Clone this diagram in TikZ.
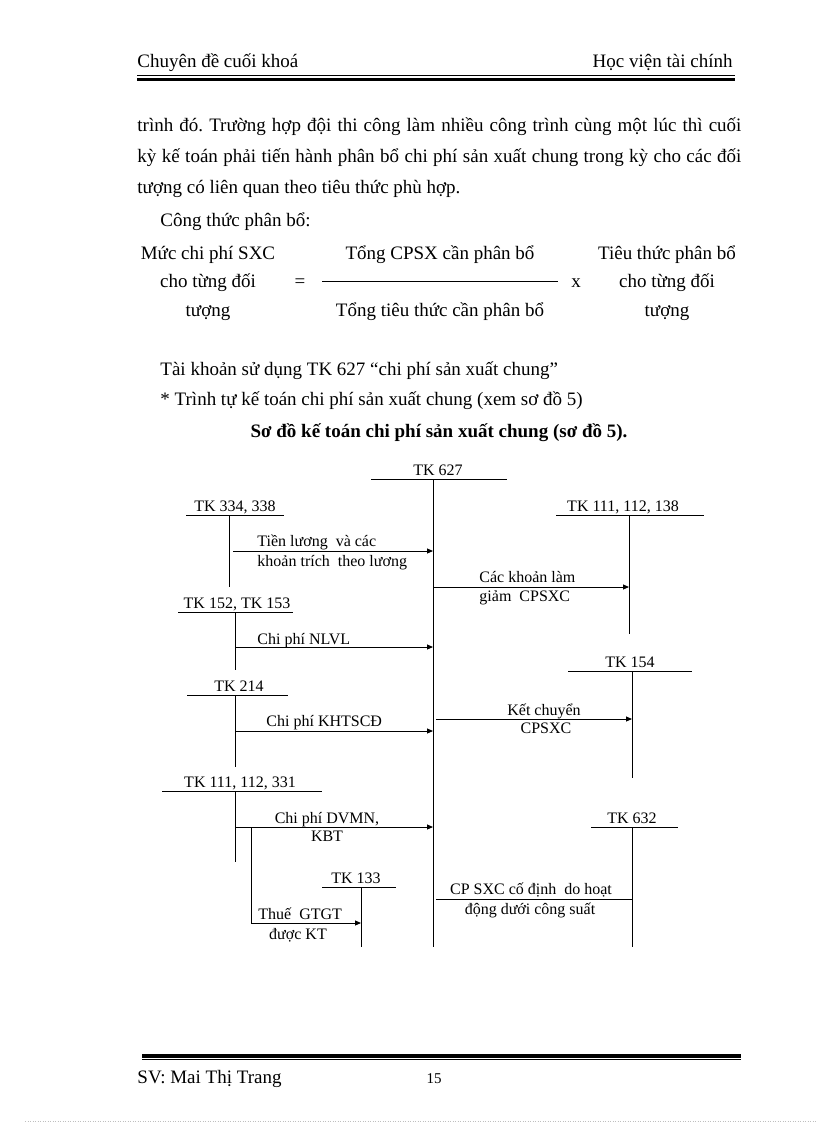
\documentclass[tikz,border=0pt]{standalone}
\usepackage{fontspec}
\setmainfont{Liberation Serif}
\usetikzlibrary{arrows.meta}
\frenchspacing

\begin{document}
\begin{tikzpicture}[x=1pt, y=-1pt, line width=0.9pt,
    body/.style={font=\fontsize{19}{22}\selectfont, anchor=base west, inner sep=0pt},
    mid/.style={body, anchor=base},
    tk/.style={font=\fontsize{16}{18}\selectfont, anchor=base, inner sep=0pt},
    lab/.style={tk, anchor=base west},
    arr/.style={-{Triangle[length=6pt,width=5pt]}}]
\useasboundingbox (0,0) rectangle (816,1123);

% header
\node[body] (head) at (137,68) {Chuyên đề cuối khoá};
\node[body, anchor=base east] (school) at (733,68) {Học viện tài chính};
\draw[line width=1pt] (137,76) -- (735,76);
\draw[line width=3pt] (137,79.2) -- (735,79.2);

% text above the diagram
\node[body] (p1) at (137,132) {\makebox[604pt][s]{trình đó. Trường hợp đội thi công làm nhiều công trình cùng một lúc thì cuối}};
\node[body] (p2) at (137,163) {\makebox[604pt][s]{kỳ kế toán phải tiến hành phân bổ chi phí sản xuất chung trong kỳ cho các đối}};
\node[body] (p3) at (137,194) {tượng có liên quan theo tiêu thức phù hợp.};
\node[body] (p4) at (160,226) {Công thức phân bổ:};

% formula
\node[mid] (f1) at (208,259) {Mức chi phí SXC};
\node[mid] (f2) at (208,287) {cho từng đối};
\node[mid] (f3) at (208,316) {tượng};
\node[mid] (eq) at (300,287) {=};
\node[mid] (num) at (440,259) {Tổng CPSX cần phân bổ};
\draw[line width=0.7pt] (322,281.5) -- (558,281.5);
\node[mid] (den) at (440,316) {Tổng tiêu thức cần phân bổ};
\node[mid] (times) at (576,287) {x};
\node[mid] (g1) at (667,259) {Tiêu thức phân bổ};
\node[mid] (g2) at (667,287) {cho từng đối};
\node[mid] (g3) at (667,316) {tượng};

\node[body] (p5) at (160,375) {Tài khoản sử dụng TK 627 “chi phí sản xuất chung”};
\node[body] (p6) at (160,405) {* Trình tự kế toán chi phí sản xuất chung (xem sơ đồ 5)};
\node[mid, font=\fontsize{19}{22}\selectfont\bfseries] (title) at (439,437) {Sơ đồ kế toán chi phí sản xuất chung (sơ đồ 5).};

% T accounts: name/label/label x/top line y/line left/line right/stem x/stem end
\foreach \n/\t/\tx/\ly/\l/\r/\vx/\b in {
    t627/{TK 627}/438/479/371/507/433/947,
    t334/{TK 334, 338}/235/515/186/284/229/587,
    t138/{TK 111, 112, 138}/623/515/556/704/629/634,
    t152/{TK 152, TK 153}/237/612/178/293/235/670,
    t154/{TK 154}/630/671/568/692/632/778,
    t214/{TK 214}/239/695/187/288/235/767,
    t331/{TK 111, 112, 331}/240/791/162/322/235/862,
    t632/{TK 632}/632/827/591/678/632/947,
    t133/{TK 133}/356/887/322/396/361/947} {
  \node[tk] (\n-lab) at (\tx,\ly-4) {\t};
  \draw (\l,\ly) -- (\r,\ly);
  \draw (\vx,\ly) coordinate (\n) -- (\vx,\b);
}

% entries into TK 627
\coordinate (s1) at (233,551);
\draw[arr] (s1) -- (s1 -| t627);
\node[lab] (l1a) at (257,546) {Tiền lương \ và các};
\node[lab] (l1b) at (257,566) {khoản trích \ theo lương};

\coordinate (s3) at (235,647);
\draw[arr] (s3) -- (s3 -| t627);
\node[lab] (l3) at (257,644) {Chi phí NLVL};

\coordinate (s4) at (235,731);
\draw[arr] (s4) -- (s4 -| t627);
\node[lab] (l4) at (266,726) {Chi phí KHTSCĐ};

\coordinate (s6) at (235,827);
\draw[arr] (s6) -- (s6 -| t627);
\node[tk] (l6a) at (327,823) {Chi phí DVMN,};
\node[tk] (l6b) at (327,841) {KBT};

% VAT branch
\coordinate (s7) at (251,827);
\coordinate (c7) at (251,923);
\draw[arr] (s7) -- (c7) -- (c7 -| t133);
\node[lab] (l7a) at (258,919) {Thuế \ GTGT};
\node[tk] (l7b) at (298,939) {được KT};

% entries out of TK 627
\coordinate (s2) at (433,587);
\draw[arr] (s2) -- (s2 -| t138);
\node[lab] (l2a) at (479,582) {Các khoản làm};
\node[lab] (l2b) at (479,601) {giảm \ CPSXC};

\coordinate (s5) at (436,719);
\draw[arr] (s5) -- (s5 -| t154);
\node[tk] (l5a) at (544,715) {Kết chuyển};
\node[tk] (l5b) at (546,733) {CPSXC};

\coordinate (s8) at (436,899);
\draw (s8) -- (s8 -| t632);
\node[tk] (l8a) at (531,894) {CP SXC cố định \ do hoạt};
\node[tk] (l8b) at (530,914) {động dưới công suất};

% footer
\draw[line width=3.4pt] (142,1056) -- (741,1056);
\draw[line width=1pt] (142,1059.3) -- (741,1059.3);
\node[body] (student) at (137,1083) {SV: Mai Thị Trang};
\node[mid, font=\fontsize{15}{18}\selectfont] (page) at (434,1083) {15};
\draw[gray!50, dotted, line width=0.5pt] (25,1121) -- (816,1121);
\end{tikzpicture}
\end{document}
